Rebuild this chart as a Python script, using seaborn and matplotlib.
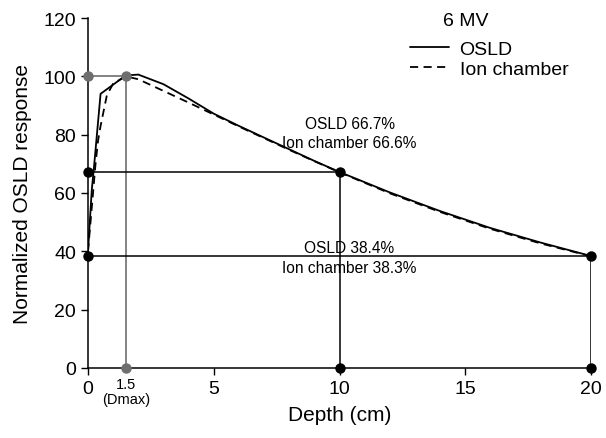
import matplotlib
matplotlib.use("Agg")
import matplotlib.pyplot as plt
import matplotlib.transforms as mtransforms
import seaborn as sns
import pandas as pd

# depth dose curves
osld_depth = [0, 0.15, 0.25, 0.5, 1.5, 2.0, 3.0, 4.0, 5.0, 6.0, 7.0, 8.0, 9.0, 10.0,
              12.0, 14.0, 16.0, 18.0, 20.0]
osld_resp = [40, 61, 70, 94, 100.3, 100.6, 97.3, 92.4, 87.2, 83.0, 79.0, 75.0, 71.0, 67.2,
             60.2, 53.8, 48.0, 43.0, 38.4]
ion_depth = [0, 0.2, 0.3, 0.4, 0.5, 0.75, 1.0, 1.5, 2.0, 3.0, 4.0, 5.0, 6.0, 7.0, 8.0,
             9.0, 10.0, 12.0, 14.0, 16.0, 18.0, 20.0]
ion_resp = [40, 60, 70, 78, 83, 93.5, 97.5, 100, 99.0, 95.0, 91.0, 86.9, 82.8, 78.8, 74.8,
            70.9, 67.1, 59.9, 53.5, 47.7, 42.7, 38.3]

# reference points
dmax_depth = 1.5
dmax_value = 100
ref_depths = [10, 20]
ref_values = [67.2, 38.4]
ref_labels = [("OSLD 66.7%", "Ion chamber 66.6%"), ("OSLD 38.4%", "Ion chamber 38.3%")]

df = pd.concat([
    pd.DataFrame({"Depth": osld_depth, "Response": osld_resp, "Detector": "OSLD"}),
    pd.DataFrame({"Depth": ion_depth, "Response": ion_resp, "Detector": "Ion chamber"}),
], ignore_index=True)

sns.set_theme(style="ticks")
plt.rcParams["font.family"] = ["Liberation Sans", "DejaVu Sans"]
plt.rcParams.update({"text.color": "black", "axes.labelcolor": "black",
                     "xtick.color": "black", "ytick.color": "black"})

fig = plt.figure(figsize=(6.06, 4.39), dpi=100)
ax = fig.add_axes([88 / 606, 70 / 439, 503 / 606, 350 / 439])

grey = "#6e6e6e"
# Dmax guide lines
ax.plot([0, dmax_depth], [dmax_value, dmax_value], color=grey, lw=1.2, zorder=2)
ax.plot([dmax_depth, dmax_depth], [dmax_value, 0], color=grey, lw=1.2, zorder=2)
ax.plot([0, dmax_depth, dmax_depth], [dmax_value, dmax_value, 0], "o", color=grey,
        ms=6.5, clip_on=False, zorder=5)

# reference depth guide lines
for d, v in zip(ref_depths, ref_values):
    ax.plot([0, d], [v, v], color="black", lw=1.1, zorder=2)
    ax.plot([d, d], [v, 0], color="black", lw=1.1, zorder=2)
    ax.plot([0, d, d], [v, v, 0], "o", color="black", ms=6.5, clip_on=False, zorder=5)

sns.lineplot(data=df, x="Depth", y="Response", hue="Detector", style="Detector",
             palette=["black", "black"], dashes={"OSLD": "", "Ion chamber": (4.5, 3)},
             lw=1.3, ax=ax, zorder=4)

ax.set_xlim(0, 20)
ax.set_ylim(0, 120)
ax.set_xticks([0, 5, 10, 15, 20])
ax.set_yticks(range(0, 121, 20))
ax.tick_params(labelsize=14, length=5, width=1, direction="out", color="black")
ax.set_xlabel("Depth (cm)", fontsize=15, labelpad=6)
ax.set_ylabel("Normalized OSLD response", fontsize=15, labelpad=8)
sns.despine(ax=ax)
for s in ["left", "bottom"]:
    ax.spines[s].set_color("black")
    ax.spines[s].set_linewidth(1.1)

# Dmax label under the axis
trans = mtransforms.blended_transform_factory(ax.transData, ax.transAxes)
ax.text(dmax_depth, -0.045, "1.5", transform=trans, ha="center", va="center", fontsize=10.5)
ax.text(dmax_depth, -0.09, "(Dmax)", transform=trans, ha="center", va="center", fontsize=10.5)

# percentage annotations
ax.text(10.4, 83.9, ref_labels[0][0], ha="center", va="center", fontsize=11.2)
ax.text(10.4, 77.3, ref_labels[0][1], ha="center", va="center", fontsize=11.2)
ax.text(10.4, 41.2, ref_labels[1][0], ha="center", va="center", fontsize=11.2)
ax.text(10.4, 34.6, ref_labels[1][1], ha="center", va="center", fontsize=11.2)

# legend
fig.text(466 / 606, 1 - 21 / 439, "6 MV", ha="center", va="center", fontsize=14)
ax.legend(frameon=False, loc="upper left", bbox_to_anchor=(410 / 606, 1 - 41 / 439),
          bbox_transform=fig.transFigure, fontsize=14, borderpad=0, borderaxespad=0,
          handlelength=2.0, handletextpad=0.55, labelspacing=0.12)

fig.savefig("out.png", dpi=100)
